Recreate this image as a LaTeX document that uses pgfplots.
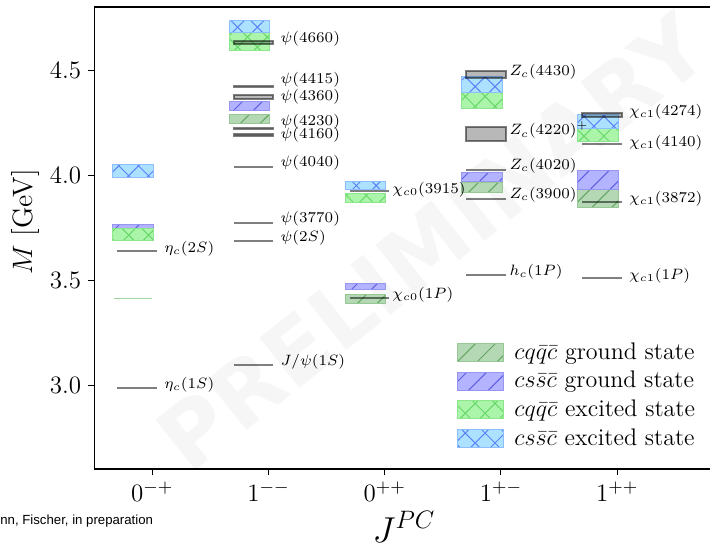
\RequirePackage{fix-cm}
\documentclass[border=0pt]{standalone}
\usepackage{fontspec}
\usepackage{pgfplots}
\pgfplotsset{compat=1.18}
\usetikzlibrary{patterns.meta}
\newfontfamily\notefont{Liberation Sans}
\newfontfamily\markfont{DejaVu Sans}

% state colours (fill / edge / hatch)
\definecolor{gfill}{RGB}{179,216,179}
\definecolor{gedge}{RGB}{150,200,150}
\definecolor{ghatch}{RGB}{100,165,100}
\definecolor{bfill}{RGB}{179,179,255}
\definecolor{bedge}{RGB}{150,150,240}
\definecolor{bhatch}{RGB}{95,95,230}
\definecolor{xgfill}{RGB}{170,245,170}
\definecolor{xgedge}{RGB}{140,230,140}
\definecolor{xghatch}{RGB}{105,215,105}
\definecolor{xbfill}{RGB}{172,225,255}
\definecolor{xbedge}{RGB}{140,190,255}
\definecolor{xbhatch}{RGB}{95,130,250}
\definecolor{lgline}{RGB}{160,215,160}
\definecolor{wm}{RGB}{246,246,246}

\tikzset{
  gground/.style={fill=gfill, draw=gedge, line width=0.5pt,
    postaction={pattern={Lines[angle=45,distance=7pt,line width=0.5pt]}, pattern color=ghatch}},
  bground/.style={fill=bfill, draw=bedge, line width=0.5pt,
    postaction={pattern={Lines[angle=45,distance=7pt,line width=0.5pt]}, pattern color=bhatch}},
  gexc/.style={fill=xgfill, draw=xgedge, line width=0.5pt,
    postaction={pattern={Hatch[angle=45,distance=7pt,line width=0.5pt]}, pattern color=xghatch}},
  bexc/.style={fill=xbfill, draw=xbedge, line width=0.5pt,
    postaction={pattern={Hatch[angle=45,distance=7pt,line width=0.5pt]}, pattern color=xbhatch}},
  pdgbox/.style={draw=black, draw opacity=0.5, fill=black, fill opacity=0.28, line width=1pt},
  pdgl/.style={draw=black, draw opacity=0.5, line width=1pt},
  lab/.style={anchor=west, inner sep=0pt, font=\fontsize{7.5}{9}\selectfont},
}

% box: style, x0, x1, lower, upper
\newcommand{\stbox}[5]{\addplot[#1, forget plot] coordinates {(#2,#4) (#3,#4) (#3,#5) (#2,#5)} -- cycle;}
% experimental line: x0, x1, mass
\newcommand{\pline}[3]{\addplot[pdgl, forget plot] coordinates {(#1,#3) (#2,#3)};}

\begin{document}
\begin{tikzpicture}
\useasboundingbox (0,0) rectangle (355pt,271pt);

% watermark
\node[rotate=38.5, text=wm, font=\markfont\bfseries\fontsize{44}{44}\selectfont] at (216pt,150pt) {PRELIMINARY};

\begin{axis}[
  at={(47.1pt,36.5pt)}, anchor=south west,
  scale only axis, width=310.9pt, height=231pt,
  xmin=-0.5, xmax=4.85, ymin=2.6, ymax=4.8,
  xtick={0,1,2,3,4},
  xticklabels={$0^{-+}$,$1^{--}$,$0^{++}$,$1^{+-}$,$1^{++}$},
  ytick={3.0,3.5,4.0,4.5},
  yticklabel style={/pgf/number format/.cd, fixed, fixed zerofill, precision=1},
  ticklabel style={font=\fontsize{12.5}{14}\selectfont},
  tick align=outside, xtick pos=left, ytick pos=left,
  major tick length=3pt,
  tick style={black, line width=0.5pt},
  axis line style={line width=0.6pt},
  clip=false,
  legend cell align=left,
  legend image code/.code={\draw[#1] (0pt,-4.5pt) rectangle (23pt,4.5pt);},
  legend style={at={(0.5835,0.284)}, anchor=north west, draw=none, fill=none,
    font=\fontsize{12}{14}\selectfont, row sep=0pt, column sep=5pt,
    inner sep=0pt, nodes={inner sep=0pt, minimum height=14.3pt}},
]
\addlegendimage{gground}
\addlegendentry{$cq\bar{q}\bar{c}$ ground state}
\addlegendimage{bground}
\addlegendentry{$cs\bar{s}\bar{c}$ ground state}
\addlegendimage{gexc}
\addlegendentry{$cq\bar{q}\bar{c}$ excited state}
\addlegendimage{bexc}
\addlegendentry{$cs\bar{s}\bar{c}$ excited state}

% 0^{-+}
\addplot[draw=lgline, line width=0.8pt, forget plot] coordinates {(-0.33,3.411) (0.0,3.411)};
\stbox{bground}{-0.34}{0.01}{3.740}{3.762}
\stbox{gexc}{-0.34}{0.01}{3.686}{3.746}
\stbox{bexc}{-0.34}{0.01}{3.986}{4.048}
% 1^{--}
\stbox{gground}{0.66}{1.01}{4.246}{4.290}
\stbox{bground}{0.66}{1.01}{4.305}{4.349}
\stbox{gexc}{0.66}{1.01}{4.595}{4.678}
\stbox{bexc}{0.66}{1.01}{4.678}{4.738}
% 0^{++}
\stbox{gground}{1.66}{2.01}{3.389}{3.433}
\stbox{bground}{1.66}{2.01}{3.457}{3.481}
\stbox{gexc}{1.66}{2.01}{3.868}{3.913}
\stbox{bexc}{1.66}{2.01}{3.929}{3.968}
% 1^{+-}
\stbox{gground}{2.66}{3.01}{3.916}{3.963}
\stbox{bground}{2.66}{3.01}{3.968}{4.011}
\stbox{gexc}{2.66}{3.01}{4.318}{4.392}
\stbox{bexc}{2.66}{3.01}{4.392}{4.468}
% 1^{++}
\stbox{gground}{3.66}{4.01}{3.846}{3.932}
\stbox{bground}{3.66}{4.01}{3.932}{4.021}
\stbox{gexc}{3.66}{4.01}{4.159}{4.222}
\stbox{bexc}{3.66}{4.01}{4.222}{4.286}

% experimental states
\pline{-0.30}{0.04}{2.9839}
\pline{-0.30}{0.04}{3.6375}
\pline{0.70}{1.04}{3.0969}
\pline{0.70}{1.04}{3.6861}
\pline{0.70}{1.04}{3.7737}
\pline{0.70}{1.04}{4.039}
\stbox{pdgbox}{0.70}{1.04}{4.186}{4.196}
\stbox{pdgbox}{0.70}{1.04}{4.220}{4.225}
\stbox{pdgbox}{0.70}{1.04}{4.363}{4.381}
\stbox{pdgbox}{0.70}{1.04}{4.417}{4.425}
\stbox{pdgbox}{0.70}{1.04}{4.624}{4.636}
\pline{1.70}{2.04}{3.4147}
\pline{1.70}{2.04}{3.9217}
\pline{2.70}{3.04}{3.5254}
\pline{2.70}{3.04}{3.8872}
\pline{2.70}{3.04}{4.0246}
\stbox{pdgbox}{2.70}{3.04}{4.164}{4.227}
\stbox{pdgbox}{2.70}{3.04}{4.460}{4.493}
\pline{3.70}{4.04}{3.5107}
\pline{3.70}{4.04}{3.8717}
\pline{3.70}{4.04}{4.1465}
\stbox{pdgbox}{3.70}{4.04}{4.277}{4.294}

% labels
\node[lab] at (axis cs:0.10,3.000) {$\eta_c(1S)$};
\node[lab] at (axis cs:0.10,3.648) {$\eta_c(2S)$};
\node[lab] at (axis cs:1.10,3.111) {$J/\psi(1S)$};
\node[lab] at (axis cs:1.10,3.701) {$\psi(2S)$};
\node[lab] at (axis cs:1.10,3.790) {$\psi(3770)$};
\node[lab] at (axis cs:1.10,4.056) {$\psi(4040)$};
\node[lab] at (axis cs:1.10,4.190) {$\psi(4160)$};
\node[lab] at (axis cs:1.10,4.254) {$\psi(4230)$};
\node[lab] at (axis cs:1.10,4.373) {$\psi(4360)$};
\node[lab] at (axis cs:1.10,4.452) {$\psi(4415)$};
\node[lab] at (axis cs:1.10,4.648) {$\psi(4660)$};
\node[lab] at (axis cs:2.063,3.429) {$\chi_{c0}(1P)$};
\node[lab] at (axis cs:2.063,3.932) {$\chi_{c0}(3915)$};
\node[lab] at (axis cs:3.07,3.538) {$h_c(1P)$};
\node[lab] at (axis cs:3.07,3.908) {$Z_c(3900)$};
\node[lab] at (axis cs:3.07,4.044) {$Z_c(4020)$};
\node[lab] at (axis cs:3.07,4.214) {$Z_c(4220)^+$};
\node[lab] at (axis cs:3.07,4.492) {$Z_c(4430)$};
\node[lab] at (axis cs:4.10,3.520) {$\chi_{c1}(1P)$};
\node[lab] at (axis cs:4.10,3.889) {$\chi_{c1}(3872)$};
\node[lab] at (axis cs:4.10,4.152) {$\chi_{c1}(4140)$};
\node[lab] at (axis cs:4.10,4.301) {$\chi_{c1}(4274)$};
\end{axis}

% axis labels and note
\node[rotate=90, font=\fontsize{14}{16}\selectfont] at (12.5pt,160pt) {$M$ [GeV]};
\node[anchor=base, font=\fontsize{18}{20}\selectfont] at (202pt,0pt) {$J^{PC}$};
\node[anchor=base west, inner sep=0pt, font=\notefont\fontsize{6.6}{8}\selectfont] at (0pt,9pt) {nn, Fischer, in preparation};
\end{tikzpicture}
\end{document}
